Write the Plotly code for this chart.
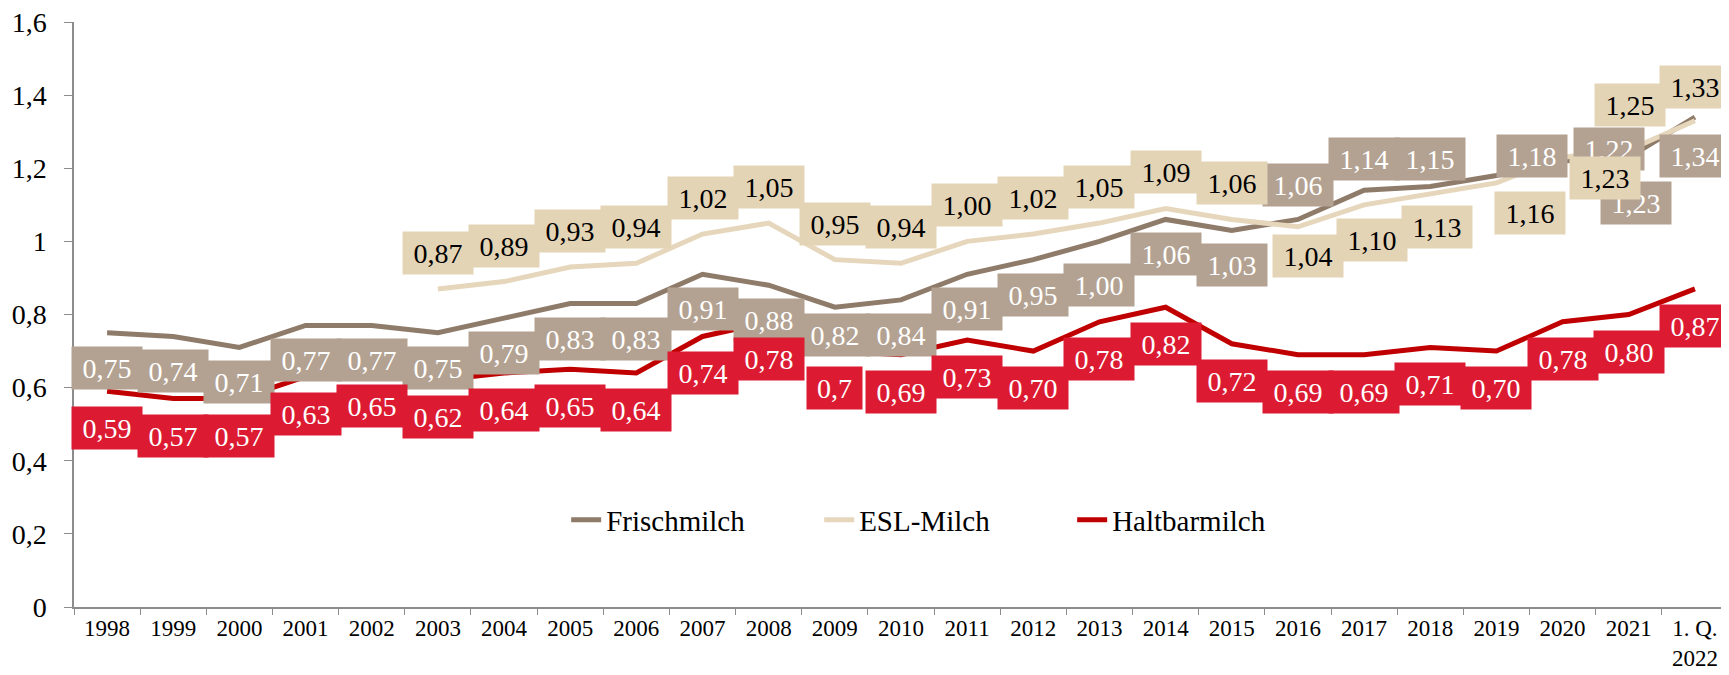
import plotly.graph_objects as go

years = ["1998", "1999", "2000", "2001", "2002", "2003", "2004", "2005", "2006",
         "2007", "2008", "2009", "2010", "2011", "2012", "2013", "2014", "2015",
         "2016", "2017", "2018", "2019", "2020", "2021", "1. Q.<br>2022"]

frisch = [0.75, 0.74, 0.71, 0.77, 0.77, 0.75, 0.79, 0.83, 0.83, 0.91, 0.88, 0.82, 0.84,
          0.91, 0.95, 1.00, 1.06, 1.03, 1.06, 1.14, 1.15, 1.18, 1.22, 1.23, 1.34]
esl = [None, None, None, None, None, 0.87, 0.89, 0.93, 0.94, 1.02, 1.05, 0.95, 0.94,
       1.00, 1.02, 1.05, 1.09, 1.06, 1.04, 1.10, 1.13, 1.16, 1.23, 1.25, 1.33]
haltbar = [0.59, 0.57, 0.57, 0.63, 0.65, 0.62, 0.64, 0.65, 0.64, 0.74, 0.78, 0.70, 0.69,
           0.73, 0.70, 0.78, 0.82, 0.72, 0.69, 0.69, 0.71, 0.70, 0.78, 0.80, 0.87]

y_ticks = [0, 0.2, 0.4, 0.6, 0.8, 1.0, 1.2, 1.4, 1.6]

# label texts as shown (2009 Haltbarmilch printed without trailing zero)
def fmt(v):
    return "" if v is None else f"{v:.2f}".replace(".", ",")

frisch_txt = [fmt(v) for v in frisch]
esl_txt = [fmt(v) for v in esl]
halt_txt = [fmt(v) for v in haltbar]
halt_txt[11] = "0,7"

# label placement tweaks (xshift, yshift) where the original moved them by hand
frisch_pos = {11: (0, -28), 15: (0, -44), 18: (0, 34), 19: (0, 31), 20: (0, 28),
              21: (36, 20), 22: (46, 12), 23: (7, -46), 24: (0, -39)}
esl_pos = {18: (10, -29), 19: (8, -35), 20: (7, -33), 21: (34, -30), 22: (42, -21),
           23: (1, 45), 24: (0, 34)}

series = [
    ("Frischmilch", frisch, frisch_txt, "#8f7b69", "#b3a292", "white", -35, frisch_pos),
    ("ESL-Milch", esl, esl_txt, "#e6d7bc", "#e4d4b6", "black", 36, esl_pos),
    ("Haltbarmilch", haltbar, halt_txt, "#c00000", "#dc1b32", "white", -37, {}),
]

FONT = "Liberation Serif"

fig = go.Figure()
annotations = []
for name, vals, txts, lc, bc, tc, ys, pos in series:
    fig.add_trace(go.Scatter(x=years, y=vals, mode="lines", name=name,
                             line=dict(color=lc, width=5)))
    for i, (v, t) in enumerate(zip(vals, txts)):
        if v is None:
            continue
        dx, dy = pos.get(i, (0, ys))
        annotations.append(dict(
            x=i, y=v, xref="x", yref="y", text=t, showarrow=False,
            xshift=dx, yshift=dy, bgcolor=bc, borderpad=5,
            width=15 * len(t), height=32,
            font=dict(family=FONT, size=28, color=tc)))

# page body adds 8px around the figure, so the figure is 8px smaller
fig.update_layout(
    width=1721, height=667,
    margin=dict(l=66, r=1, t=14, b=68),
    paper_bgcolor="white", plot_bgcolor="white",
    separators=",.",
    annotations=annotations,
    showlegend=True,
    legend=dict(orientation="h", x=0.527, y=0.149, xanchor="center", yanchor="middle",
                font=dict(family=FONT, size=29, color="black"),
                entrywidth=208, bgcolor="rgba(0,0,0,0)"),
    font=dict(family=FONT, color="black"),
)
fig.update_xaxes(type="category", range=[-0.5, 24.5], showline=True, linecolor="#8c8c8c",
                 linewidth=1.5, ticks="outside", tickson="boundaries", ticklen=6,
                 tickcolor="#8c8c8c", showgrid=False, zeroline=False, automargin=False,
                 tickfont=dict(family=FONT, size=23, color="black"))
fig.update_yaxes(range=[0, 1.6], tickvals=y_ticks, showline=True, linecolor="#8c8c8c",
                 linewidth=1.5, ticks="outside", ticklen=8, tickcolor="#8c8c8c",
                 showgrid=False, zeroline=False, automargin=False, ticklabelstandoff=12,
                 ticklabeloverflow="allow",
                 tickfont=dict(family=FONT, size=28, color="black"))

fig.write_html("out.html")
